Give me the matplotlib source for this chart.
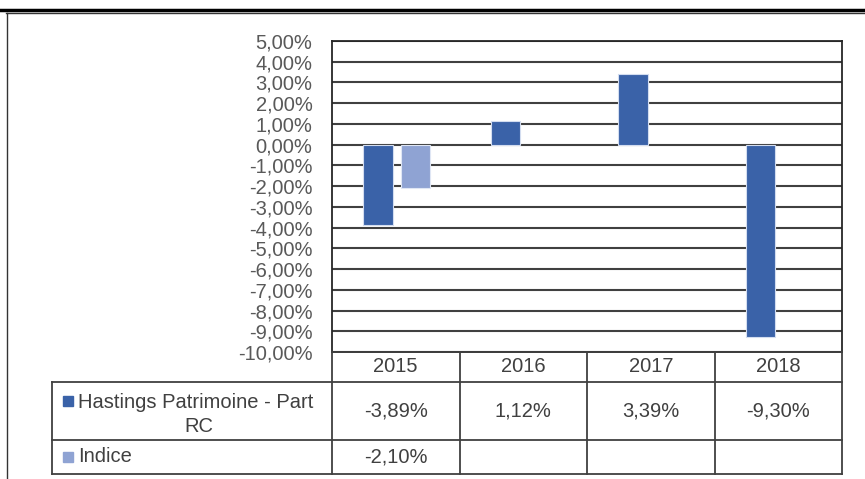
import numpy as np
import matplotlib.pyplot as plt
from matplotlib.patches import Rectangle

years = ['2015', '2016', '2017', '2018']
hastings = [-3.89, 1.12, 3.39, -9.30]
indice = [-2.10, np.nan, np.nan, np.nan]
series_names = [('Hastings Patrimoine - Part', 'RC'), ('Indice', '')]
colors = ['#3A62A8', '#8FA3D3']
yticks = list(range(-10, 6))

W, H = 865, 479
FS = 14.5
plt.rcParams['font.family'] = ['Liberation Sans', 'DejaVu Sans']


def fmt(v):
    return '{:.2f}%'.format(v).replace('.', ',')


fig = plt.figure(figsize=(W / 100, H / 100), dpi=100)

# plot area in pixel coordinates
left, right, top, bottom = 332, 842, 41, 352
ax = fig.add_axes([left / W, 1 - bottom / H, (right - left) / W, (bottom - top) / H])

x = np.arange(len(years))
ax.bar(x - 0.14, hastings, width=0.23, color=colors[0], edgecolor='#d3ddf0', linewidth=0.8, zorder=3)
ax.bar(x + 0.155, indice, width=0.23, color=colors[1], edgecolor='#dfe6f4', linewidth=0.8, zorder=3)

ax.set_xlim(-0.5, len(years) - 0.5)
ax.set_ylim(-10, 5)
ax.set_yticks(yticks)
ax.set_yticklabels([fmt(t) for t in yticks], color='#595959', fontsize=FS)
ax.tick_params(axis='y', length=0, pad=14)
ax.set_xticks([])
ax.yaxis.grid(True, color='#404040', linewidth=1.5)
ax.set_axisbelow(True)
for s in ax.spines.values():
    s.set_color('#262626')
    s.set_linewidth(1.3)

# overlay for the data table and the outer frame
ov = fig.add_axes([0, 0, 1, 1])
ov.set_xlim(0, W)
ov.set_ylim(H, 0)
ov.axis('off')

lc = '#404040'
lw = 1.3
colw = (right - left) / len(years)
row_y = [352, 382, 440, 474]
tbl_left = 52

# horizontal lines
ov.plot([left, right], [row_y[0], row_y[0]], color=lc, lw=lw)
for yy in row_y[1:]:
    ov.plot([tbl_left, right], [yy, yy], color=lc, lw=lw)
# vertical lines
ov.plot([tbl_left, tbl_left], [row_y[1], row_y[3]], color=lc, lw=lw)
for i in range(len(years) + 1):
    xx = left + i * colw
    ov.plot([xx, xx], [row_y[0], row_y[3]], color=lc, lw=lw)

tc = '#404040'
for i, yr in enumerate(years):
    cx = left + (i + 0.5) * colw
    ov.text(cx, (row_y[0] + row_y[1]) / 2, yr, ha='center', va='center', fontsize=FS, color=tc)
    ov.text(cx, (row_y[1] + row_y[2]) / 2, fmt(hastings[i]), ha='center', va='center', fontsize=FS, color=tc)
    if not np.isnan(indice[i]):
        ov.text(cx, (row_y[2] + row_y[3]) / 2, fmt(indice[i]), ha='center', va='center', fontsize=FS, color=tc)

# series labels with legend keys
ov.add_patch(Rectangle((63, 396), 10, 10, color=colors[0]))
ov.text(78, 402, series_names[0][0], ha='left', va='center', fontsize=FS, color=tc)
ov.text(199, 426, series_names[0][1], ha='center', va='center', fontsize=FS, color=tc)
ov.add_patch(Rectangle((63, 452), 10, 10, color=colors[1]))
ov.text(78, (row_y[2] + row_y[3]) / 2, series_names[1][0], ha='left', va='center', fontsize=FS, color=tc)

# outer frame
ov.plot([0, W], [10, 10], color='black', lw=2.5)
ov.plot([6, W], [12.5, 12.5], color='#333333', lw=1)
ov.plot([6.5, 6.5], [12.5, H], color='#333333', lw=1)

fig.savefig('out.png', dpi=100)
